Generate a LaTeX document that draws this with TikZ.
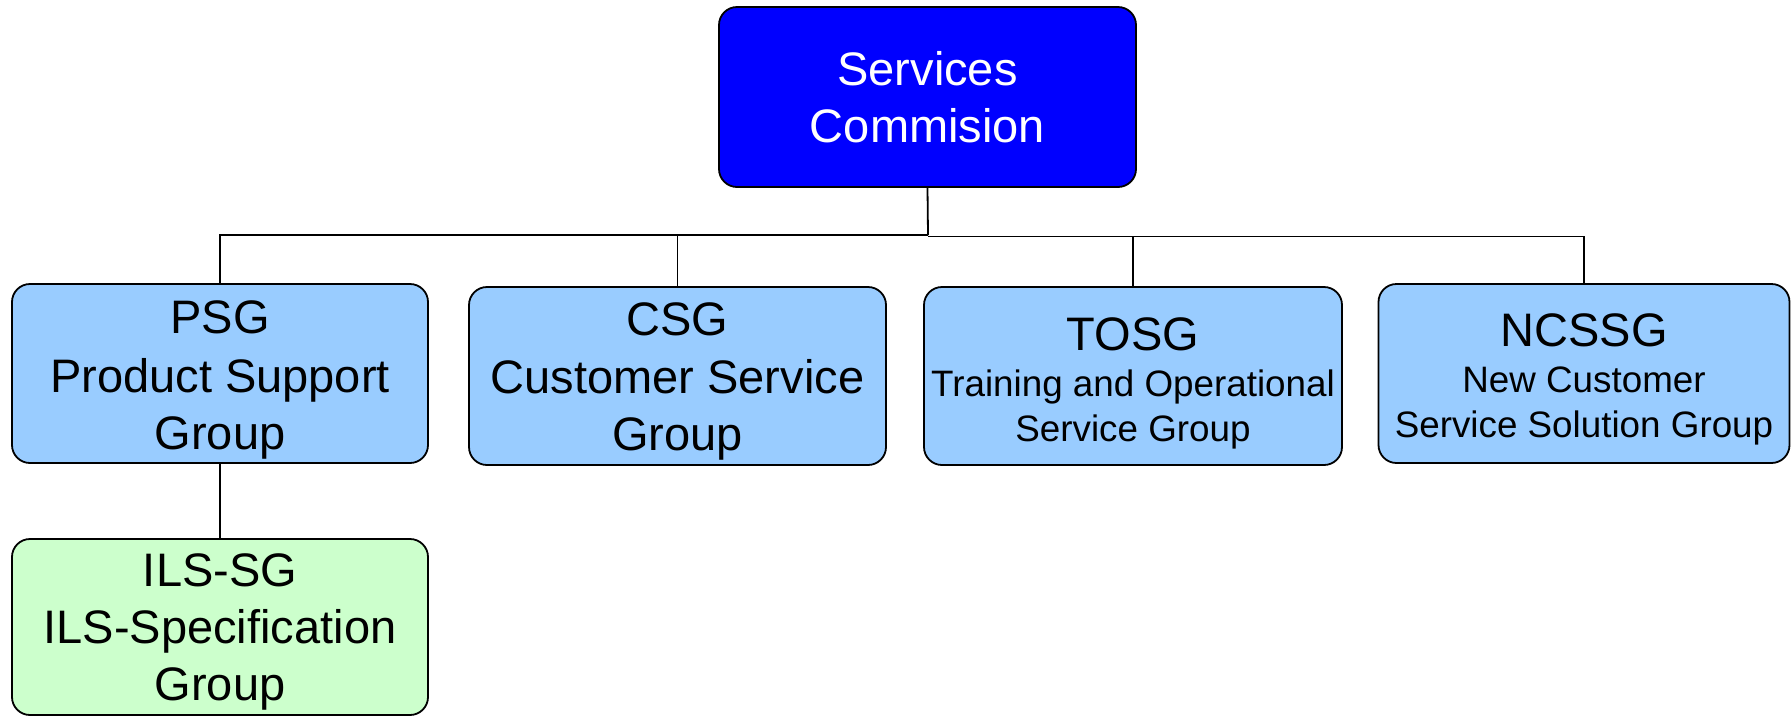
\documentclass[tikz,border=0pt]{standalone}
\usepackage{fontspec}
\setmainfont{Liberation Sans}
\newcommand{\bxl}[2]{\rule{0pt}{#1pt}\smash{#2}}
\newcommand{\bigsz}{\fontsize{47pt}{0pt}\selectfont}
\newcommand{\smallsz}{\fontsize{36.8pt}{0pt}\selectfont}
\definecolor{topblue}{RGB}{0,0,255}
\definecolor{lightblue}{RGB}{153,204,255}
\definecolor{lightgreen}{RGB}{204,255,204}
\tikzset{
  box/.style={draw=black, line width=1.8pt, rounded corners=18pt, inner sep=0pt,
    align=center, text=black, font=\bigsz},
  conn/.style={draw=black, line width=1.8pt}
}
\begin{document}
\lineskip=0pt
\lineskiplimit=0pt
\begin{tikzpicture}[x=1pt,y=-1pt]
\useasboundingbox (0,0) rectangle (1791,716);
\node[box, fill=topblue, text=white, minimum width=417pt, minimum height=180pt] (sc) at (927.5,97)
  {\bxl{33.65}{Services}\\\bxl{57}{Commision}};
\node[box, fill=lightblue, minimum width=416pt, minimum height=179pt] (psg) at (220,373.5)
  {\bxl{35}{PSG}\\\bxl{59}{Product Support}\\\bxl{57}{Group}};
\node[box, fill=lightblue, minimum width=417pt, minimum height=178pt] (csg) at (677.5,376)
  {\bxl{33.65}{CSG}\\\bxl{58}{Customer Service}\\\bxl{57}{Group}};
\node[box, fill=lightblue, minimum width=418pt, minimum height=178pt] (tosg) at (1133,376)
  {\bxl{39}{TOSG}\\{\smallsz\bxl{46}{Training and Operational}}\\{\smallsz\bxl{45}{Service Group}}};
\node[box, fill=lightblue, minimum width=411pt, minimum height=179pt] (ncssg) at (1584,373.5)
  {\bxl{37.5}{NCSSG}\\{\smallsz\bxl{46}{New Customer}}\\{\smallsz\bxl{45}{Service Solution Group}}};
\node[box, fill=lightgreen, minimum width=416pt, minimum height=176pt] (ils) at (220,627)
  {\bxl{33.65}{ILS-SG}\\\bxl{57}{ILS-Specification}\\\bxl{57}{Group}};
\coordinate (busL) at (928,235);
\coordinate (busR) at (928,236.5);
\draw[conn] (sc.south) -- (busL);
\draw[conn] (busL) -| (psg.north);
\draw[conn] (busL) -| (csg.north);
\draw[conn] (busR) -| (tosg.north);
\draw[conn] (busR) -| (ncssg.north);
\draw[conn] (psg.south) -- (ils.north);
\end{tikzpicture}
\end{document}
